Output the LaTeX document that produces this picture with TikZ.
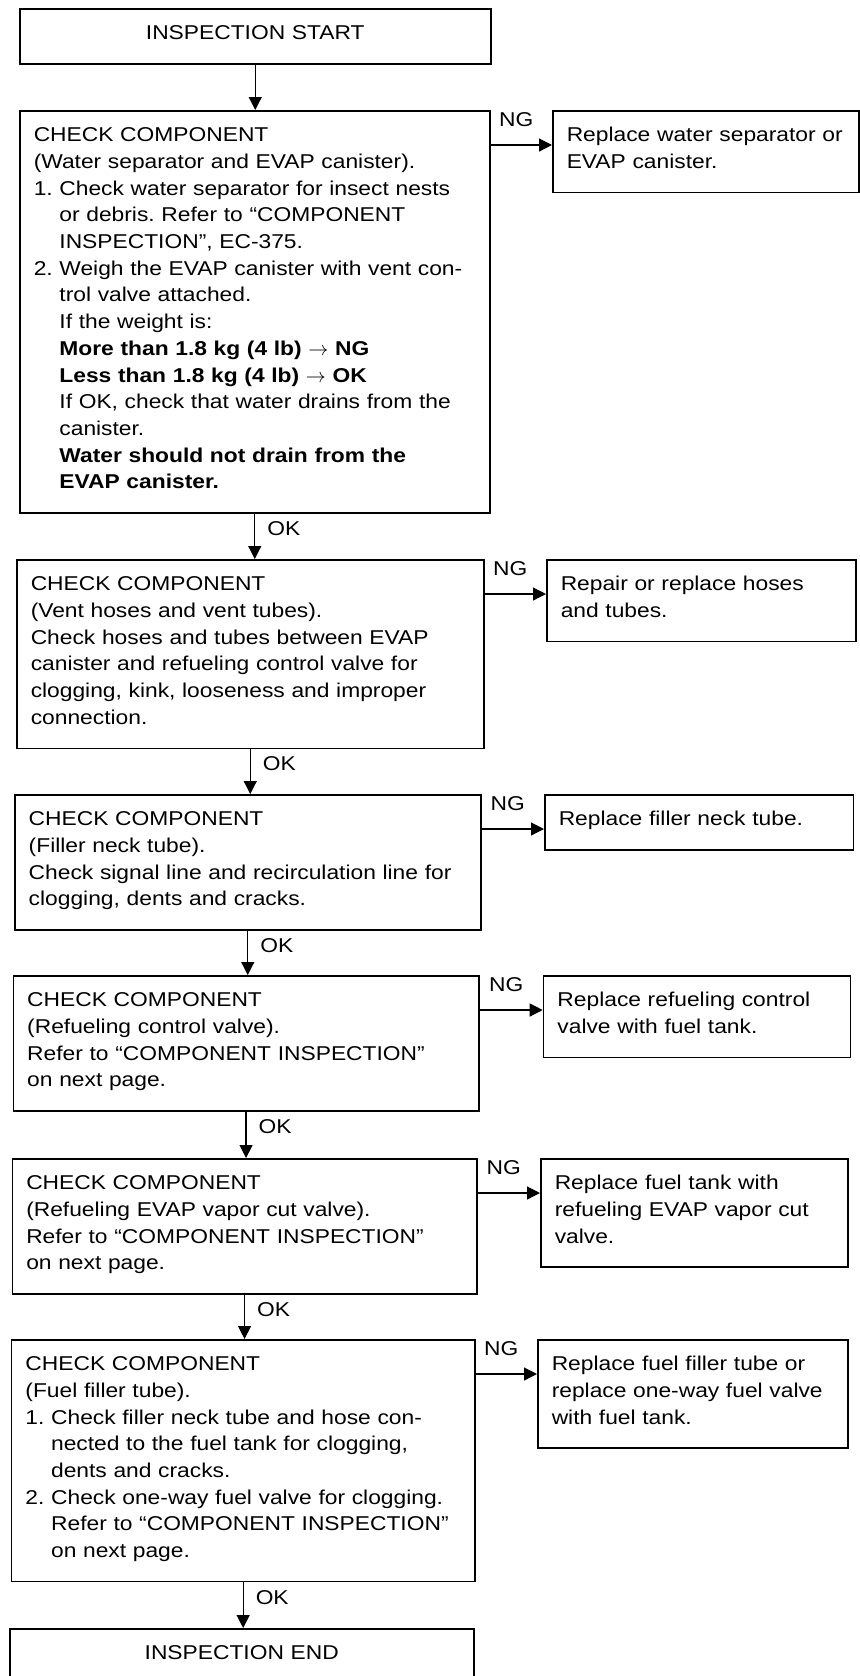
\documentclass[tikz,border=0pt]{standalone}
\usepackage{fontspec}
\setmainfont{Liberation Sans}[FakeStretch=1.14]
\usetikzlibrary{arrows.meta}
\newcommand{\ind}{\phantom{1.\ }}
\frenchspacing

\begin{document}
\begin{tikzpicture}[x=0.5pt,y=-0.5pt,>={Triangle[length=6.5pt,width=6.5pt]},
    every node/.style={font=\fontsize{10}{13.35}\selectfont},
    box/.style={draw,line width=.75pt,anchor=north west,inner xsep=7pt,inner ysep=6pt,
        execute at begin node=\rule{0pt}{9.5pt},execute at end node=\rule[-6pt]{0pt}{6pt}},
    chk/.style={box,align=left},
    term/.style={box,align=center},
    flow/.style={->,line width=.6pt}]
    \useasboundingbox (0,0) rectangle (860,1676);
    % Main column of checks.
    \node[term,text width=221.5pt] (s) at (19,8) {INSPECTION START};
    \node[chk,text width=221pt] (b1) at (19,110) {CHECK COMPONENT\\
        (Water separator and EVAP canister).\\
        1. Check water separator for insect nests\\
        \ind or debris. Refer to “COMPONENT\\
        \ind INSPECTION”, EC-375.\\
        2. Weigh the EVAP canister with vent con-\\
        \ind trol valve attached.\\
        \ind If the weight is:\\
        \ind\textbf{More than 1.8 kg (4 lb) $\rightarrow$ NG}\\
        \ind\textbf{Less than 1.8 kg (4 lb) $\rightarrow$ OK}\\
        \ind If OK, check that water drains from the\\
        \ind canister.\\
        \ind\textbf{Water should not drain from the}\\
        \ind\textbf{EVAP canister.}};
    \node[chk,text width=219.5pt] (b2) at (16,559) {CHECK COMPONENT\\
        (Vent hoses and vent tubes).\\
        Check hoses and tubes between EVAP\\
        canister and refueling control valve for\\
        clogging, kink, looseness and improper\\
        connection.};
    \node[chk,text width=219pt] (b3) at (14,794) {CHECK COMPONENT\\
        (Filler neck tube).\\
        Check signal line and recirculation line for\\
        clogging, dents and cracks.};
    \node[chk,text width=218.8pt] (b4) at (12.5,975) {CHECK COMPONENT\\
        (Refueling control valve).\\
        Refer to “COMPONENT INSPECTION”\\
        on next page.};
    \node[chk,text width=218.3pt] (b5) at (11.5,1158) {CHECK COMPONENT\\
        (Refueling EVAP vapor cut valve).\\
        Refer to “COMPONENT INSPECTION”\\
        on next page.};
    \node[chk,text width=217.7pt] (b6) at (10.7,1339) {CHECK COMPONENT\\
        (Fuel filler tube).\\
        1. Check filler neck tube and hose con-\\
        \ind nected to the fuel tank for clogging,\\
        \ind dents and cracks.\\
        2. Check one-way fuel valve for clogging.\\
        \ind Refer to “COMPONENT INSPECTION”\\
        \ind on next page.};
    \node[term,text width=218pt] (e) at (9,1628) {INSPECTION END};
    % Repairs on the right.
    \node[chk,text width=139pt] (n1) at (552,110) {Replace water separator or\\EVAP canister.};
    \node[chk,text width=140.5pt] (n2) at (546,559) {Repair or replace hoses\\and tubes.};
    \node[chk,text width=140.3pt] (n3) at (544,794) {Replace filler neck tube.};
    \node[chk,text width=139.6pt] (n4) at (542.7,975) {Replace refueling control\\valve with fuel tank.};
    \node[chk,text width=139.5pt] (n5) at (540,1158) {Replace fuel tank with\\refueling EVAP vapor cut\\valve.};
    \node[chk,text width=141pt] (n6) at (537,1339) {Replace fuel filler tube or\\replace one-way fuel valve\\with fuel tank.};
    \draw[flow] (s.south) -- (s.south |- b1.north);
    \foreach \a/\b in {b1/b2,b2/b3,b3/b4,b4/b5,b5/b6,b6/e}
        \draw[flow] (\a.south) -- (\a.south |- \b.north)
            node[pos=.33,right=6pt,inner sep=0] {OK};
    \foreach \i in {1,...,6}
        \draw[flow] ([yshift=-17.5pt]b\i.north east) -- ([yshift=-17.5pt]n\i.north west)
            node[midway,above=9pt,inner sep=0,xshift=-2.5pt] {NG};
\end{tikzpicture}
\end{document}
